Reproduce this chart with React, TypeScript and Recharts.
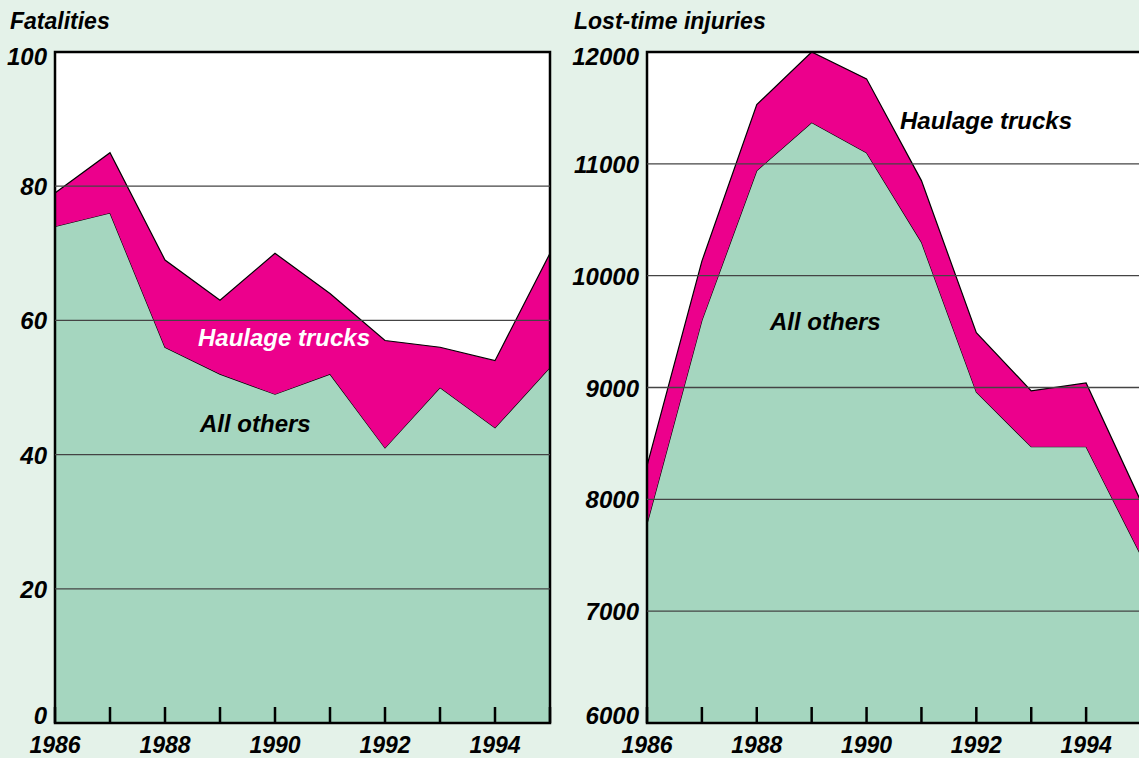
import React from 'react'
import { AreaChart, Area, XAxis, YAxis, CartesianGrid, ReferenceLine, ReferenceArea } from 'recharts'

const years = [1986, 1987, 1988, 1989, 1990, 1991, 1992, 1993, 1994, 1995]

// Fatalities
const fatalOthers = [74, 76, 56, 52, 49, 52, 41, 50, 44, 53]
const fatalHaulage = [5, 9, 13, 11, 21, 12, 16, 6, 10, 17]
const fatalTicks = [0, 20, 40, 60, 80, 100]

// Lost-time injuries
const injuryOthers = [7780, 9600, 10940, 11370, 11100, 10300, 8960, 8470, 8470, 7500]
const injuryHaulage = [520, 530, 590, 630, 660, 550, 530, 500, 570, 480]
const injuryTicks = [6000, 7000, 8000, 9000, 10000, 11000, 12000]

const BG = '#e4f2e9'
const GREEN = '#a5d6bf'
const MAGENTA = '#ec008c'
const FONT = '"Liberation Sans", Arial, sans-serif'

const fatalData = years.map((year, i) => ({ year, others: fatalOthers[i], haulage: fatalHaulage[i] }))
const injuryData = years.map((year, i) => ({ year, others: injuryOthers[i], haulage: injuryHaulage[i] }))

function YearTick(props: any) {
  const { x, y, payload } = props
  const v = payload.value
  return (
    <g>
      <line x1={x} y1={y} x2={x} y2={y - 16} stroke="#000" strokeWidth={2.5} />
      {v % 2 === 0 && v !== 1995 && (
        <text x={x} y={y + 30} textAnchor="middle" fontFamily={FONT} fontStyle="italic" fontWeight="bold" fontSize={23} fill="#000">
          {v}
        </text>
      )}
    </g>
  )
}

function makeValueTick(min: number, max: number) {
  return function ValueTick(props: any) {
    const { x, y, payload } = props
    const v = payload.value
    const dy = v === max ? 13 : v === min ? 1 : 9
    return (
      <text x={x - 8} y={y + dy} textAnchor="end" fontFamily={FONT} fontStyle="italic" fontWeight="bold" fontSize={24} fill="#000">
        {v}
      </text>
    )
  }
}

function Panel({ data, ticks, width, axisWidth }: { data: any[]; ticks: number[]; width: number; axisWidth: number }) {
  const min = ticks[0]
  const max = ticks[ticks.length - 1]
  return (
    <AreaChart width={width} height={758} data={data} margin={{ top: 52, right: 10, bottom: 0, left: 0 }}>
      <CartesianGrid horizontal={false} vertical={false} fill="#fff" />
      <Area
        type="linear"
        dataKey="others"
        stackId="a"
        fill={GREEN}
        fillOpacity={1}
        stroke="#000"
        strokeWidth={1.2}
        isAnimationActive={false}
      />
      <Area
        type="linear"
        dataKey="haulage"
        stackId="a"
        fill={MAGENTA}
        fillOpacity={1}
        stroke="#000"
        strokeWidth={1.2}
        isAnimationActive={false}
      />
      {ticks.slice(1, -1).map(t => (
        <ReferenceLine key={t} y={t} stroke="#444" strokeWidth={1.3} />
      ))}
      <ReferenceArea x1={years[0]} x2={years[years.length - 1]} y1={min} y2={max} fill="none" stroke="#000" strokeWidth={2.5} fillOpacity={0} />
      <XAxis
        dataKey="year"
        type="number"
        domain={[years[0], years[years.length - 1]]}
        ticks={years}
        height={35}
        tickSize={0}
        tickMargin={0}
        axisLine={false}
        tickLine={false}
        tick={<YearTick />}
        interval={0}
      />
      <YAxis
        type="number"
        domain={[min, max]}
        ticks={ticks}
        allowDataOverflow
        width={axisWidth}
        tickSize={0}
        tickMargin={0}
        axisLine={false}
        tickLine={false}
        tick={makeValueTick(min, max)}
        interval={0}
      />
    </AreaChart>
  )
}

const titleStyle: React.CSSProperties = {
  position: 'absolute',
  top: 8,
  fontFamily: FONT,
  fontStyle: 'italic',
  fontWeight: 'bold',
  fontSize: 23,
  color: '#000',
  whiteSpace: 'nowrap',
}

const noteStyle: React.CSSProperties = {
  position: 'absolute',
  fontFamily: FONT,
  fontStyle: 'italic',
  fontWeight: 'bold',
  fontSize: 24,
  whiteSpace: 'nowrap',
  lineHeight: '28px',
}

export default function App() {
  return (
    <div style={{ position: 'absolute', left: 0, top: 0, width: 1139, height: 758, overflow: 'hidden', background: BG }}>
      <div style={{ ...titleStyle, left: 10 }}>Fatalities</div>
      <div style={{ ...titleStyle, left: 574 }}>Lost-time injuries</div>
      <div style={{ position: 'absolute', left: 0, top: 0 }}>
        <Panel data={fatalData} ticks={fatalTicks} width={560} axisWidth={55} />
      </div>
      <div style={{ position: 'absolute', left: 560, top: 0 }}>
        <Panel data={injuryData} ticks={injuryTicks} width={591} axisWidth={87} />
      </div>
      <div style={{ ...noteStyle, left: 198, top: 324, color: '#fff' }}>Haulage trucks</div>
      <div style={{ ...noteStyle, left: 200, top: 410, color: '#000' }}>All others</div>
      <div style={{ ...noteStyle, left: 900, top: 107, color: '#000' }}>Haulage trucks</div>
      <div style={{ ...noteStyle, left: 770, top: 308, color: '#000' }}>All others</div>
    </div>
  )
}
